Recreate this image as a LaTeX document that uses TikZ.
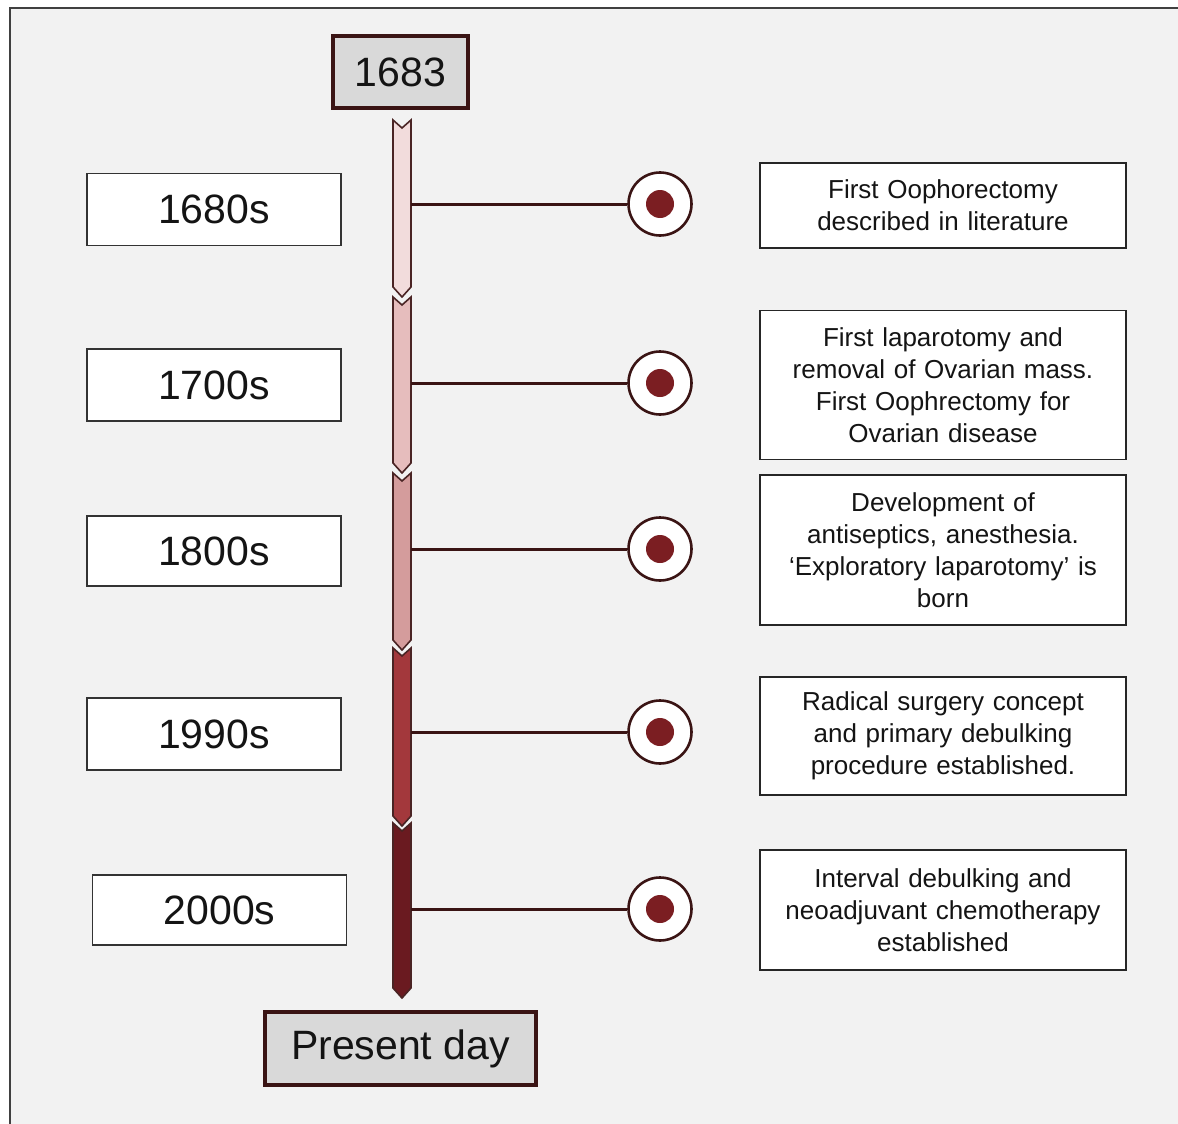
\documentclass[tikz,border=0pt]{standalone}
\usepackage{fontspec}
\setmainfont{Liberation Sans}
\definecolor{bgc}{HTML}{F2F2F2}
\definecolor{maroon}{HTML}{3A1414}
\definecolor{segedge}{HTML}{4A2424}
\definecolor{sa}{HTML}{F2DCDC}
\definecolor{sb}{HTML}{E6BDBD}
\definecolor{sc}{HTML}{D49C9C}
\definecolor{sd}{HTML}{A3383C}
\definecolor{se}{HTML}{6A1A20}
\definecolor{dotc}{HTML}{7B1E22}
\definecolor{ink}{HTML}{141414}
\tikzset{
  endbox/.style={draw=maroon, line width=3.5pt, fill=black!15, inner sep=0pt,
    font=\fontsize{41}{49}\selectfont, text=ink},
  lbox/.style={draw=black!80, line width=1.8pt, fill=white, inner sep=0pt,
    minimum width=254, minimum height=72, font=\fontsize{41}{49}\selectfont, text=ink},
  rbox/.style={draw=black!85, line width=1.8pt, fill=white, inner sep=0pt,
    minimum width=366, text width=340, align=center,
    font=\fontsize{26}{32}\selectfont, text=ink},
  ring/.style={circle, draw=maroon, line width=2.6pt, fill=white, minimum size=63, inner sep=0pt},
  dot/.style={circle, fill=dotc, minimum size=28, inner sep=0pt},
  link/.style={draw=maroon, line width=3pt},
  seg/.style={draw=segedge, line width=1.6pt, line join=miter}
}
\newcommand{\chev}[3]{% top, tip, colour
  \path[seg, fill=#3] (393,#1) -- (402,#1+8) -- (411,#1) -- (411,#2-10) -- (402,#2) -- (393,#2-10) -- cycle;}
\begin{document}
\begin{tikzpicture}[x=1pt,y=-1pt]
\useasboundingbox (0,0) rectangle (1178,1124);
\fill[white] (0,0) rectangle (1178,1124);
\fill[bgc] (10,8) rectangle (1178,1124);
\draw[black!75, line width=1.5pt] (10,1124) -- (10,8) -- (1178,8);

% timeline bar
\chev{120}{297}{sa}
\chev{297}{473}{sb}
\chev{473}{650}{sc}
\chev{648}{826}{sd}
\chev{823}{998}{se}

% end boxes
\node[endbox, minimum width=135, minimum height=72] (top) at (400.5,72) {1683};
\node[endbox, minimum width=271, minimum height=73] (present) at (400.5,1048.5) {Present day};

% left labels
\node[lbox] (l1) at (214,209.5) {1680s};
\node[lbox] (l2) at (214,385) {1700s};
\node[lbox, minimum height=70] (l3) at (214,551) {1800s};
\node[lbox] (l4) at (214,734) {1990s};
\node[lbox, minimum height=70] (l5) at (219.5,910) {2000s};

% attachment points on the bar
\coordinate (b1) at (411,204);
\coordinate (b2) at (411,383);
\coordinate (b3) at (411,549);
\coordinate (b4) at (411,732);
\coordinate (b5) at (411,909);

% markers
\foreach \i/\y in {1/204,2/383,3/549,4/732,5/909}{
  \node[ring] (c\i) at (660,\y) {};
  \node[dot] (d\i) at (c\i) {};
  \draw[link] (b\i) -- (c\i.west);
}

% right descriptions
\node[rbox, minimum height=85] (r1) at (943,205.5) {First Oophorectomy\\described in literature};
\node[rbox, minimum height=149] (r2) at (943,385) {First laparotomy and\\removal of Ovarian mass.\\First Oophrectomy for\\Ovarian disease};
\node[rbox, minimum height=150] (r3) at (943,550) {Development of\\antiseptics, anesthesia.\\‘Exploratory laparotomy’ is\\born};
\node[rbox, minimum height=118] (r4) at (943,736) {Radical surgery concept\\and primary debulking\\procedure established.};
\node[rbox, minimum height=120] (r5) at (943,910) {Interval debulking and\\neoadjuvant chemotherapy\\established};
\end{tikzpicture}
\end{document}
